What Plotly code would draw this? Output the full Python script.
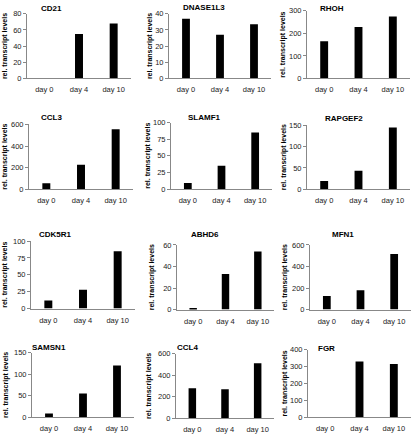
import plotly.graph_objects as go

W, H = 416, 437

days = ["day 0", "day 4", "day 10"]
genes = ["CD21", "DNASE1L3", "RHOH", "CCL3", "SLAMF1", "RAPGEF2",
         "CDK5R1", "ABHD6", "MFN1", "SAMSN1", "CCL4", "FGR"]

cd21 = [0, 55, 68]
dnase1l3 = [37, 27, 33.5]
rhoh = [165, 228, 275]
ccl3 = [55, 225, 555]
slamf1 = [9, 35, 85]
rapgef2 = [19, 43, 145]
cdk5r1 = [12, 28, 85]
abhd6 = [1.5, 33, 54]
mfn1 = [125, 180, 515]
samsn1 = [9, 55, 120]
ccl4 = [278, 270, 510]
fgr = [0, 330, 315]
values = [cd21, dnase1l3, rhoh, ccl3, slamf1, rapgef2,
          cdk5r1, abhd6, mfn1, samsn1, ccl4, fgr]

y_max = [80, 40, 300, 600, 100, 150, 100, 60, 600, 150, 600, 400]
y_step = [20, 10, 100, 200, 25, 50, 25, 20, 200, 50, 200, 100]

# plot boxes in pixels: x0, x1, ytop(max tick), ybottom(zero)
boxes = [
    (27, 131, 10, 76), (169, 271, 10, 76), (307, 410, 7, 76),
    (29, 133, 123, 189), (171, 272, 121, 189), (307, 410, 124, 189),
    (31, 135, 242, 311), (177, 274, 246, 312), (310, 411, 246, 312),
    (32, 134, 356, 422), (176, 274, 357, 423), (308, 411, 353, 422),
]
title_pos = [
    (51, 5), (204, 4), (332, 5),
    (51, 116), (204, 116), (344, 117),
    (55, 235), (205, 235), (343, 235),
    (49, 351), (187, 351), (326, 352),
]
ytitle_x = [5, 150, 283, 5, 148, 284, 5, 152, 285, 6, 149, 285]

font = "Liberation Sans, Arial, sans-serif"
axis_col = "#888888"

fig = go.Figure()
layout = dict(
    width=W, height=H, margin=dict(l=0, r=0, t=0, b=0),
    paper_bgcolor="white", plot_bgcolor="white", showlegend=False,
    bargap=0.77, font=dict(family=font, size=7.5, color="#222222"),
)
annotations = []
for i, (g, v) in enumerate(zip(genes, values)):
    n = "" if i == 0 else str(i + 1)
    fig.add_trace(go.Bar(x=days, y=v, marker=dict(color="black", line=dict(width=0)),
                         xaxis="x" + n, yaxis="y" + n))
    x0, x1, yt, yb = boxes[i]
    layout["xaxis" + n] = dict(
        domain=[x0 / W, x1 / W], anchor="y" + n, showline=True, linecolor=axis_col,
        linewidth=1, ticks="", showgrid=False, zeroline=False,
        ticklabelstandoff=4, tickfont=dict(size=7.5, color="#222222"),
        fixedrange=True,
    )
    layout["yaxis" + n] = dict(
        domain=[1 - yb / H, 1 - yt / H], anchor="x" + n, range=[0, y_max[i]],
        dtick=y_step[i], tick0=0, showline=True, linecolor=axis_col, linewidth=1,
        ticks="outside", ticklen=3, tickcolor=axis_col, showgrid=False, zeroline=False,
        tickfont=dict(size=7.5, color="#222222"), fixedrange=True,
    )
    tx, ty = title_pos[i]
    annotations.append(dict(text="<b>" + g + "</b>", x=tx / W, y=1 - ty / H,
                            xref="paper", yref="paper", showarrow=False,
                            xanchor="center", yanchor="middle",
                            font=dict(size=8, color="black", family=font)))
    annotations.append(dict(text="<b>rel. transcript levels</b>", x=ytitle_x[i] / W,
                            y=1 - ((yt + yb) / 2) / H, xref="paper", yref="paper",
                            showarrow=False, textangle=-90, xanchor="center",
                            yanchor="middle",
                            font=dict(size=7, color="black", family=font)))
layout["annotations"] = annotations
fig.update_layout(**layout)
fig.write_html("out.html", config={"displayModeBar": False},
               post_script="document.body.style.margin='0';document.body.style.overflow='hidden';")
